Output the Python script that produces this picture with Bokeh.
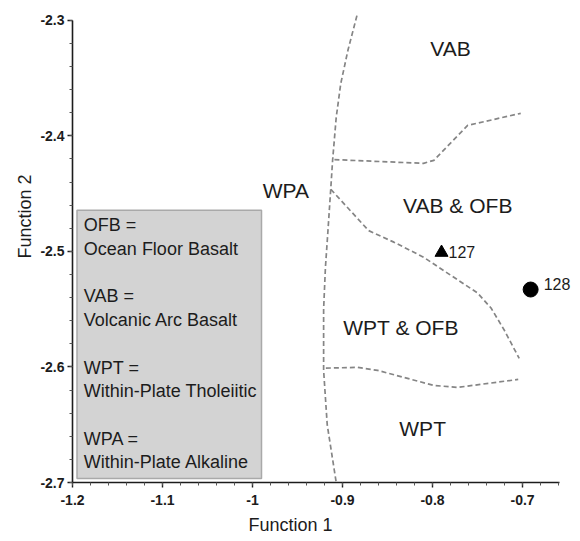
from bokeh.core.properties import value
from bokeh.embed import file_html
from bokeh.models import FixedTicker, Title
from bokeh.plotting import figure
from bokeh.resources import INLINE

# --- discriminant boundaries (Function 1, Function 2) ---
wpa_x = [-0.884, -0.894, -0.902, -0.907, -0.911, -0.913, -0.916, -0.919, -0.921, -0.921, -0.917, -0.907]
wpa_y = [-2.296, -2.326, -2.355, -2.384, -2.421, -2.445, -2.48, -2.514, -2.55, -2.603, -2.65, -2.70]

vab_x = [-0.909, -0.81, -0.7985, -0.761, -0.702]
vab_y = [-2.4206, -2.4238, -2.4212, -2.391, -2.3805]

ofb_x = [-0.913, -0.871, -0.843, -0.81, -0.783, -0.75, -0.735, -0.7204, -0.7037]
ofb_y = [-2.4463, -2.482, -2.492, -2.505, -2.519, -2.536, -2.549, -2.568, -2.5926]

wpt_x = [-0.9185, -0.883, -0.861, -0.7985, -0.772, -0.7048]
wpt_y = [-2.601, -2.6004, -2.603, -2.616, -2.6177, -2.6108]

# --- field names ---
region_names = ["VAB", "WPA", "VAB & OFB", "WPT & OFB", "WPT"]
region_x = [-0.78, -0.963, -0.772, -0.835, -0.811]
region_y = [-2.324, -2.447, -2.460, -2.566, -2.653]

# --- samples ---
sample_127 = (-0.79, -2.501)
sample_128 = (-0.691, -2.533)

# --- key text ---
key_lines = ["OFB =", "Ocean Floor Basalt", "",
             "VAB =", "Volcanic Arc Basalt", "",
             "WPT =", "Within-Plate Tholeiitic", "",
             "WPA =", "Within-Plate Alkaline"]

x_ticks = [-1.2, -1.1, -1.0, -0.9, -0.8, -0.7]
x_tick_labels = ["-1.2", "-1.1", "-1", "-0.9", "-0.8", "-0.7"]
y_ticks = [-2.7, -2.6, -2.5, -2.4, -2.3]
y_tick_labels = ["-2.7", "-2.6", "-2.5", "-2.4", "-2.3"]

FONT = "Liberation Sans"
INK = "#1c1c1c"

# the frame runs to the right edge so the "128" label is not cut off;
# the x axis line itself stops at -0.659
p = figure(width=580, height=541, x_range=(-1.2, -0.6356), y_range=(-2.7, -2.295),
           output_backend="svg", toolbar_location=None,
           min_border_left=72, min_border_right=0, min_border_top=14, min_border_bottom=59)
p.background_fill_color = "white"
p.border_fill_color = "white"
p.outline_line_color = None
p.xgrid.visible = False
p.ygrid.visible = False

x_minor = [round(-1.2 + 0.02 * i, 2) for i in range(28)]
y_minor = [round(-2.7 + 0.02 * i, 2) for i in range(21)]
p.xaxis.ticker = FixedTicker(ticks=x_ticks, minor_ticks=x_minor)
p.yaxis.ticker = FixedTicker(ticks=y_ticks, minor_ticks=y_minor)
p.xaxis.major_label_overrides = dict(zip(x_ticks, x_tick_labels))
p.yaxis.major_label_overrides = dict(zip(y_ticks, y_tick_labels))
p.xaxis.bounds = (-1.2, -0.659)
p.yaxis.bounds = (-2.7, -2.3)

for ax in (p.xaxis, p.yaxis):
    ax.axis_line_color = INK
    ax.axis_line_width = 1.6
    ax.major_tick_line_color = INK
    ax.major_tick_line_width = 1.4
    ax.minor_tick_line_color = "#555555"
    ax.major_tick_in = 0
    ax.major_tick_out = 5
    ax.minor_tick_in = 0
    ax.minor_tick_out = 3
    ax.major_label_text_font = FONT
    ax.major_label_text_font_size = "14px"
    ax.major_label_text_font_style = "bold"
    ax.major_label_text_color = INK
p.xaxis.major_label_standoff = 7
p.yaxis.major_label_standoff = 3

# boundaries
dash = dict(line_color="#858585", line_width=1.7, line_dash="5 3")
for xs, ys in ((wpa_x, wpa_y), (vab_x, vab_y), (ofb_x, ofb_y), (wpt_x, wpt_y)):
    p.line(xs, ys, **dash)

# field names
p.text(region_x, region_y, text=region_names, text_font=value(FONT), text_font_size="21px",
       text_color=INK, text_align="center", text_baseline="middle")

# key box
p.quad(left=-1.195, right=-0.99, top=-2.4645, bottom=-2.6965,
       fill_color="#d3d3d3", line_color="#a9a9a9", line_width=1.5)
key_y = [-2.4775 - 0.0205 * i for i in range(len(key_lines))]
p.text([-1.1874] * len(key_lines), key_y, text=key_lines, text_font=value(FONT),
       text_font_size="18px", text_color=INK, text_align="left", text_baseline="middle")

# samples
p.scatter([sample_127[0]], [sample_127[1]], marker="triangle", size=13,
          fill_color="black", line_color="black")
p.scatter([sample_128[0]], [sample_128[1]], marker="circle", size=15,
          fill_color="black", line_color="black")
p.text([sample_127[0]], [sample_127[1]], text=["127"], x_offset=7, y_offset=-1,
       text_font=value(FONT), text_font_size="16px", text_color=INK,
       text_align="left", text_baseline="middle")
p.text([sample_128[0]], [sample_128[1]], text=["128"], x_offset=13, y_offset=-6,
       text_font=value(FONT), text_font_size="16px", text_color=INK,
       text_align="left", text_baseline="middle")

# axis titles
p.add_layout(Title(text="Function 1", align="left", offset=176, standoff=10,
                   text_font=FONT, text_font_size="18px", text_font_style="normal",
                   text_color=INK), "below")
p.add_layout(Title(text="Function 2", align="left", offset=224, standoff=5,
                   text_font=FONT, text_font_size="18px", text_font_style="normal",
                   text_color=INK), "left")

open("out.html", "w").write(file_html(p, INLINE))
